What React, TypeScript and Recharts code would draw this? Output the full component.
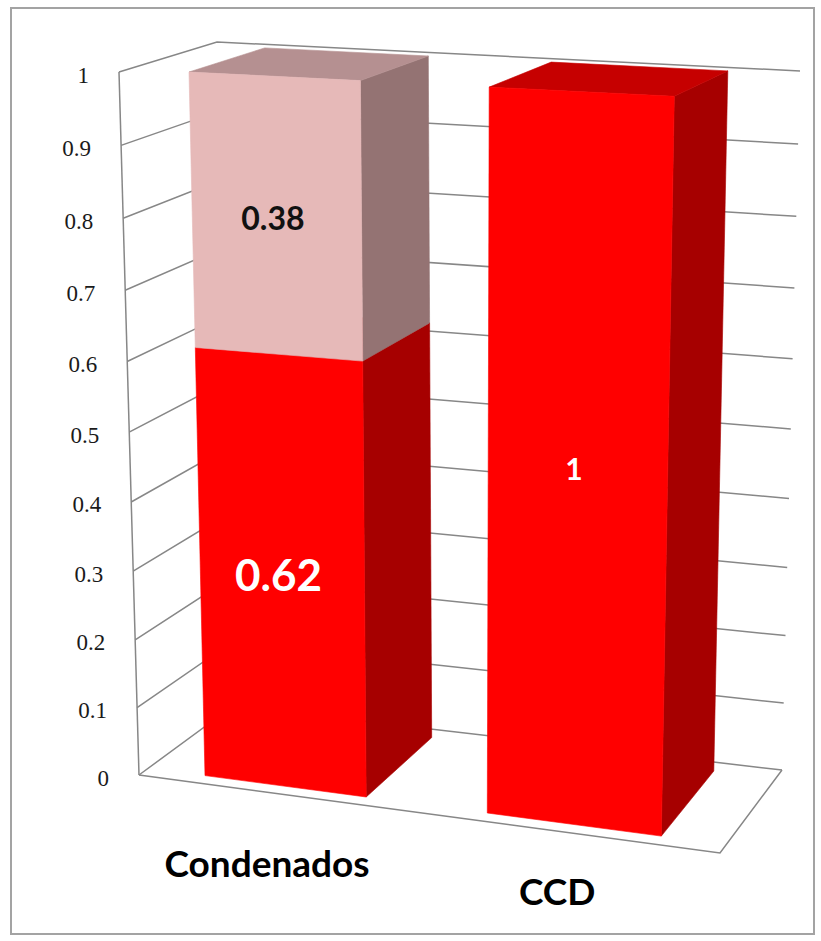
import React from 'react';
import { BarChart, Bar, XAxis, YAxis, CartesianGrid, LabelList } from 'recharts';

// ---------- data ----------
const categories = ['Condenados', 'CCD'];
const redValues: (number | null)[] = [0.62, 1];
const pinkValues: (number | null)[] = [0.38, null];
const yTicks = [0, 0.1, 0.2, 0.3, 0.4, 0.5, 0.6, 0.7, 0.8, 0.9, 1];
const yTickLabels = ['0', '0.1', '0.2', '0.3', '0.4', '0.5', '0.6', '0.7', '0.8', '0.9', '1'];

const data = categories.map((name, i) => ({ name, red: redValues[i], pink: pinkValues[i] }));

// ---------- layout / styles ----------
const W = 821;
const H = 941;
const MARGIN = { top: 20, right: 20, bottom: 20, left: 20 };
const Y_AXIS_W = 40;
const X_AXIS_H = 40;
const PL = MARGIN.left + Y_AXIS_W;
const PR = W - MARGIN.right;
const PT = MARGIN.top;
const PB = H - MARGIN.bottom - X_AXIS_H;

const GRID = '#878787';
const RED = { front: '#FF0000', side: '#A60000', top: '#C60000' };
const PINK = { front: '#E6B9B8', side: '#947373', top: '#B59091' };
const RED_LABEL_SIZES = [44, 30];
const PINK_LABEL_SIZES = [32, 32];

// 3D projection of the plot box (front/back, left/right, bottom/top corners)
const CORNERS: Record<string, [number, number]> = {
  flb: [139, 775], flt: [119, 72], frb: [720, 853], frt: [737, 103],
  blb: [233, 706], blt: [217, 42], brb: [782, 770], brt: [800, 71],
};
const KX = -0.074;
const KY = 0.05;
const Z_FRONT = 0.1;
const Z_BACK = 0.9;

const warpX = (x: number) => (x * (1 + KX)) / (1 + KX * x);
const warpY = (y: number) => {
  const t = 1 - y;
  return 1 - (t * (1 + KY)) / (1 + KY * t);
};
const lerp = (a: number[], b: number[], t: number): [number, number] => [
  a[0] + (b[0] - a[0]) * t,
  a[1] + (b[1] - a[1]) * t,
];
function project(X: number, Y: number, Z: number): [number, number] {
  const x = warpX(X);
  const y = warpY(Y);
  const fb = lerp(CORNERS.flb, CORNERS.frb, x);
  const ft = lerp(CORNERS.flt, CORNERS.frt, x);
  const bb = lerp(CORNERS.blb, CORNERS.brb, x);
  const bt = lerp(CORNERS.blt, CORNERS.brt, x);
  const f = lerp(fb, ft, y);
  const b = lerp(bb, bt, y);
  return lerp(f, b, Z);
}
const nx = (px: number) => (px - PL) / (PR - PL);
const ny = (py: number) => (PB - py) / (PB - PT);
const pts = (arr: [number, number][]) => arr.map((p) => `${p[0].toFixed(1)},${p[1].toFixed(1)}`).join(' ');

const makeShape = (c: { front: string; side: string; top: string }) => (props: any) => {
  const { x, y, width, height } = props;
  if (height == null || Math.abs(height) < 0.5) return <g />;
  const yTop = Math.min(y, y + height);
  const yBot = Math.max(y, y + height);
  const X0 = nx(x);
  const X1 = nx(x + width);
  const Yb = ny(yBot);
  const Yt = ny(yTop);
  const front = [project(X0, Yb, Z_FRONT), project(X1, Yb, Z_FRONT), project(X1, Yt, Z_FRONT), project(X0, Yt, Z_FRONT)];
  const side = [project(X1, Yb, Z_FRONT), project(X1, Yb, Z_BACK), project(X1, Yt, Z_BACK), project(X1, Yt, Z_FRONT)];
  const top = [project(X0, Yt, Z_FRONT), project(X1, Yt, Z_FRONT), project(X1, Yt, Z_BACK), project(X0, Yt, Z_BACK)];
  return (
    <g>
      <polygon points={pts(side)} fill={c.side} stroke={c.side} strokeWidth={0.6} />
      <polygon points={pts(top)} fill={c.top} stroke={c.top} strokeWidth={0.6} />
      <polygon points={pts(front)} fill={c.front} stroke={c.front} strokeWidth={0.6} />
    </g>
  );
};

const gridLine = (props: any) => {
  const { y1, index } = props;
  const Y = ny(y1);
  const a = project(0, Y, 0);
  const b = project(0, Y, 1);
  const c = project(1, Y, 1);
  const isFloor = Math.abs(Y) < 1e-4;
  return (
    <g key={`grid-${index}`}>
      <polyline points={pts([a, b, c])} fill="none" stroke={GRID} strokeWidth={1.5} />
      {isFloor && (
        <>
          <polyline
            points={pts([project(0, 0, 0), project(1, 0, 0), project(1, 0, 1)])}
            fill="none"
            stroke={GRID}
            strokeWidth={1.5}
          />
          <line
            x1={project(0, 0, 0)[0]}
            y1={project(0, 0, 0)[1]}
            x2={project(0, 1, 0)[0]}
            y2={project(0, 1, 0)[1]}
            stroke={GRID}
            strokeWidth={1.5}
          />
        </>
      )}
    </g>
  );
};

const YTick = (props: any) => {
  const { y, payload, index } = props;
  const Y = ny(y);
  const p = project(0, Y, 0);
  const idx = yTicks.indexOf(payload.value);
  const label = idx >= 0 ? yTickLabels[idx] : String(payload.value);
  return (
    <text
      key={`yt-${index}`}
      x={p[0] - 30}
      y={p[1] + 3}
      textAnchor="end"
      dominantBaseline="central"
      fontFamily="'Liberation Serif', serif"
      fontSize={23}
      fill="#1a1a1a"
    >
      {label}
    </text>
  );
};

const XTick = (props: any) => {
  const { x, payload, index } = props;
  const X = nx(x);
  const p = project(X, 0, 0);
  const wx = warpX(X);
  const dy = 69 - 11 * ((wx - 0.236) / 0.499);
  return (
    <text
      key={`xt-${index}`}
      x={p[0] - 9}
      y={p[1] + dy}
      textAnchor="middle"
      dominantBaseline="central"
      fontFamily="Lato, 'Open Sans', sans-serif"
      fontWeight={700}
      fontSize={37}
      fill="#000"
    >
      {payload.value}
    </text>
  );
};

const makeLabel = (color: string, sizes: number[], values: (number | null)[]) => (props: any) => {
  const { x, y, width, height, value, index } = props;
  if (value == null || value === 0 || height == null || Math.abs(height) < 0.5) return null;
  const cx = nx(x + width / 2);
  const cy = ny(Math.min(y, y + height) + Math.abs(height) / 2);
  const p = project(cx, cy, Z_FRONT);
  const i = typeof index === 'number' ? index : values.indexOf(value);
  const size = sizes[i] ?? 30;
  return (
    <text
      key={`lbl-${color}-${i}`}
      x={p[0] - 3}
      y={p[1] + 1}
      textAnchor="middle"
      dominantBaseline="central"
      fontFamily="Lato, 'Open Sans', sans-serif"
      fontWeight={700}
      fontSize={size}
      fill={color}
    >
      {String(value)}
    </text>
  );
};

export default function App() {
  return (
    <div style={{ position: 'absolute', left: 0, top: 0, width: W, height: H, background: '#fff' }}>
      <div
        style={{
          position: 'absolute',
          left: 10,
          top: 7,
          width: 805,
          height: 928,
          border: '2px solid #a3a3a3',
          boxSizing: 'border-box',
        }}
      />
      <div style={{ position: 'absolute', left: 0, top: 0 }}>
        <BarChart width={W} height={H} data={data} margin={MARGIN} barCategoryGap="21%">
          <CartesianGrid vertical={false} horizontal={gridLine} />
          <XAxis dataKey="name" height={X_AXIS_H} axisLine={false} tickLine={false} tick={XTick} interval={0} />
          <YAxis
            domain={[0, 1]}
            ticks={yTicks}
            width={Y_AXIS_W}
            axisLine={false}
            tickLine={false}
            tick={YTick}
            interval={0}
          />
          <Bar dataKey="red" stackId="s" fill={RED.front} shape={makeShape(RED)} isAnimationActive={false}>
            <LabelList dataKey="red" content={makeLabel('#ffffff', RED_LABEL_SIZES, redValues)} />
          </Bar>
          <Bar dataKey="pink" stackId="s" fill={PINK.front} shape={makeShape(PINK)} isAnimationActive={false}>
            <LabelList dataKey="pink" content={makeLabel('#111111', PINK_LABEL_SIZES, pinkValues)} />
          </Bar>
        </BarChart>
      </div>
    </div>
  );
}
